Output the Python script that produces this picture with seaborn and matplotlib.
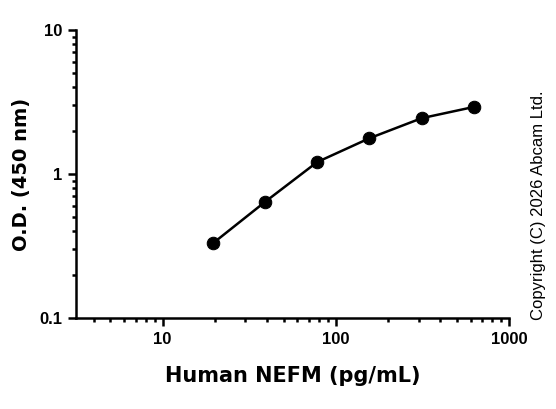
import numpy as np
import pandas as pd
import matplotlib
matplotlib.use("Agg")
import matplotlib.pyplot as plt
import seaborn as sns
from matplotlib.ticker import LogLocator, FixedLocator, FixedFormatter, NullFormatter

# -----------------------------
# Data
# -----------------------------
conc = [19.5, 39, 78, 156, 312.5, 625]          # Human NEFM (pg/mL)
od = [0.33, 0.64, 1.21, 1.77, 2.44, 2.92]       # O.D. (450 nm)

x_ticks = [10, 100, 1000]
x_tick_labels = ["10", "100", "1000"]
y_ticks = [0.1, 1, 10]
y_tick_labels = ["0.1", "1", "10"]

df = pd.DataFrame({"conc": conc, "od": od})

# -----------------------------
# Plot
# -----------------------------
sns.set_style("ticks", {"text.color": "black", "axes.labelcolor": "black",
                        "xtick.color": "black", "ytick.color": "black",
                        "axes.edgecolor": "black"})

fig = plt.figure(figsize=(5.56, 4.09), dpi=100)
ax = fig.add_axes([0.1367, 0.2225, 0.779, 0.7042])

sns.lineplot(data=df, x="conc", y="od", ax=ax, color="black",
             linewidth=1.8, marker="o", markersize=9,
             markeredgecolor="black", markerfacecolor="black")

ax.set_xscale("log")
ax.set_yscale("log")
ax.set_xlim(10 ** 0.5, 1000)
ax.set_ylim(0.1, 10)

ax.xaxis.set_major_locator(FixedLocator(x_ticks))
ax.xaxis.set_major_formatter(FixedFormatter(x_tick_labels))
ax.yaxis.set_major_locator(FixedLocator(y_ticks))
ax.yaxis.set_major_formatter(FixedFormatter(y_tick_labels))
ax.xaxis.set_minor_locator(LogLocator(base=10, subs=np.arange(2, 10)))
ax.yaxis.set_minor_locator(LogLocator(base=10, subs=np.arange(2, 10)))
ax.xaxis.set_minor_formatter(NullFormatter())
ax.yaxis.set_minor_formatter(NullFormatter())

sns.despine(ax=ax)
for side in ["left", "bottom"]:
    ax.spines[side].set_linewidth(1.8)

ax.tick_params(axis="both", which="major", length=6, width=1.8,
               direction="out", labelsize=12, pad=4, colors="black")
ax.tick_params(axis="both", which="minor", length=3, width=1.8,
               direction="out", colors="black")
for lab in ax.get_xticklabels() + ax.get_yticklabels():
    lab.set_family("Liberation Sans")
    lab.set_fontweight("bold")

ax.set_xlabel("Human NEFM (pg/mL)", fontsize=15, fontweight="bold",
              family="DejaVu Sans", labelpad=14, color="black")
ax.set_ylabel("O.D. (450 nm)", fontsize=14, fontweight="bold",
              family="DejaVu Sans", labelpad=6, color="black")

fig.text(538 / 556, 1 - 205 / 409, "Copyright (C) 2026 Abcam Ltd.",
         rotation=90, ha="center", va="center", fontsize=12,
         family="Liberation Sans", color="black")

fig.savefig("out.png", dpi=100)
